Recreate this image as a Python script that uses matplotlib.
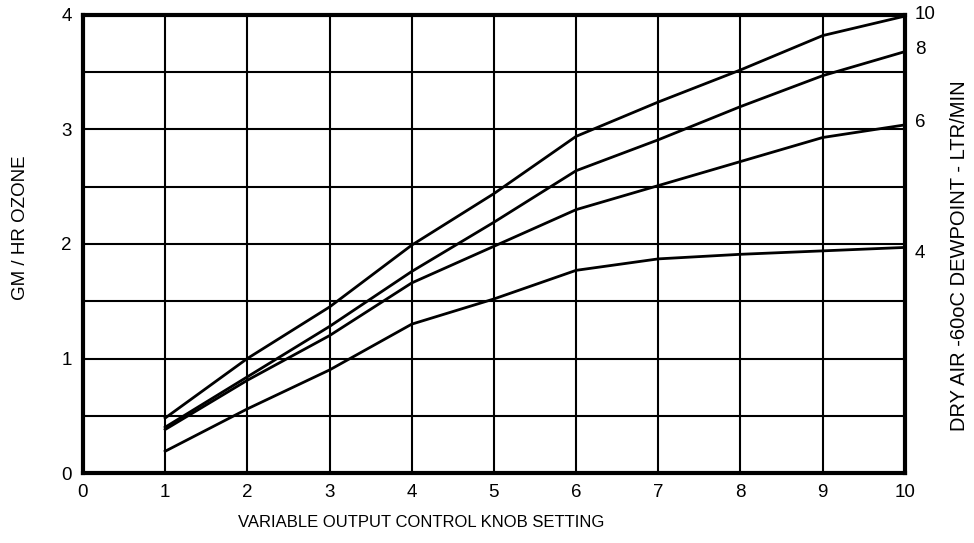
import numpy as np
import matplotlib.pyplot as plt

plt.rcParams['font.family'] = ['Liberation Sans', 'DejaVu Sans']

# knob setting
knob = [1, 2, 3, 4, 5, 6, 7, 8, 9, 10]

# ozone output (gm/hr) for each air flow (ltr/min)
flow_labels = ['10', '8', '6', '4']
oz_10 = [0.48, 1.00, 1.45, 1.99, 2.44, 2.94, 3.24, 3.52, 3.82, 3.99]
oz_8 = [0.40, 0.84, 1.28, 1.76, 2.19, 2.64, 2.91, 3.20, 3.47, 3.68]
oz_6 = [0.38, 0.81, 1.20, 1.66, 1.98, 2.30, 2.51, 2.72, 2.93, 3.04]
oz_4 = [0.19, 0.56, 0.90, 1.30, 1.52, 1.77, 1.87, 1.91, 1.94, 1.97]
series = [oz_10, oz_8, oz_6, oz_4]
label_pos = [4.0, 3.7, 3.06, 1.92]

fig = plt.figure(figsize=(9.74, 5.43), dpi=100)
ax = fig.add_axes([0.0852, 0.1289, 0.929 - 0.0852, 0.9724 - 0.1289])

# grid
for gx in range(1, 10):
    ax.axvline(gx, color='black', lw=1.5, zorder=1)
for gy in np.arange(0.5, 4.0, 0.5):
    ax.axhline(gy, color='black', lw=1.5, zorder=1)

for ys in series:
    ax.plot(knob, ys, color='black', lw=2, zorder=3)

ax.set_xlim(0, 10)
ax.set_ylim(0, 4)
ax.set_xticks(range(0, 11))
ax.set_yticks(range(0, 5))
ax.tick_params(length=0, labelsize=13.5, pad=8)
for s in ax.spines.values():
    s.set_linewidth(3)
    s.set_zorder(4)

# right side flow labels
for lab, yp in zip(flow_labels, label_pos):
    ax.text(10.12, yp, lab, fontsize=13.5, va='center', ha='left', clip_on=False)

fig.text(0.432, 0.038, 'VARIABLE OUTPUT CONTROL KNOB SETTING', fontsize=12,
         ha='center', va='center')
fig.text(0.021, 0.58, 'GM / HR OZONE', fontsize=13.5, rotation=90,
         ha='center', va='center')
fig.text(0.985, 0.529, 'DRY AIR -60oC DEWPOINT - LTR/MIN', fontsize=14.5,
         rotation=90, ha='center', va='center')

fig.savefig('out.png', dpi=100)
